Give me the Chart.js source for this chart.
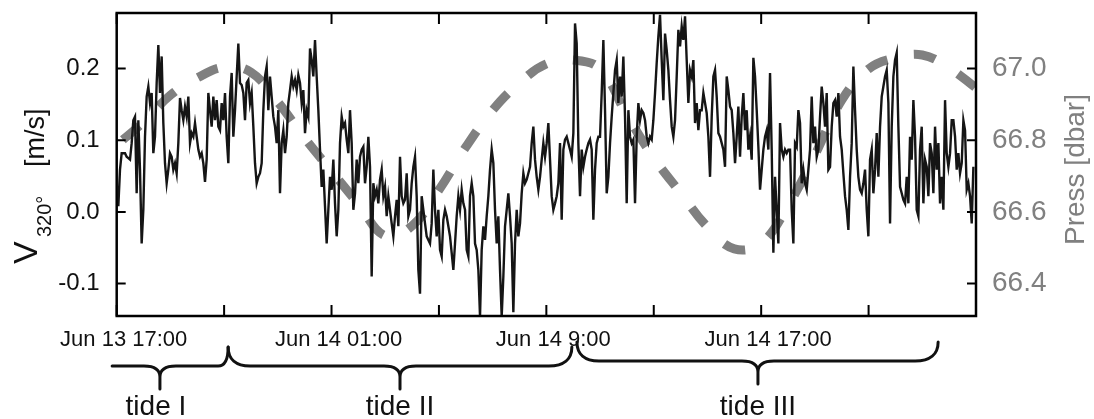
<!DOCTYPE html>
<html>
<head>
<meta charset="utf-8">
<script src="https://cdn.jsdelivr.net/npm/chart.js@4.4.1/dist/chart.umd.min.js"></script>
<style>
  html, body { margin: 0; padding: 0; background: #fff; }
  canvas { display: block; }
</style>
</head>
<body>
<canvas id="chart" width="1094" height="419"></canvas>
<script>
// Time axis: hours after Jun 13 17:00
const SAMPLE_START_H = 0.0607;   // first velocity sample (≈17:03:40)
const SAMPLE_STEP_H = 0.06207;   // velocity sampling interval (≈3 min 43 s)

// Along-channel velocity v320° [m/s]
const velocity = [
  0.008, 0.059, 0.082, 0.082, 0.082, 0.077, 0.075, 0.073, 0.096, 0.128,
  0.133, 0.026, 0.128, 0.059, -0.044, 0.003, 0.105, 0.161, 0.175, 0.152,
  0.166, 0.082, 0.105, 0.180, 0.233, 0.166, 0.217, 0.124, 0.068, 0.040,
  0.059, 0.082, 0.077, 0.059, 0.068, 0.054, 0.096, 0.159, 0.142, 0.128,
  0.147, 0.133, 0.161, 0.096, 0.110, 0.105, 0.124, 0.105, 0.087, 0.077,
  0.082, 0.068, 0.042, 0.073, 0.166, 0.142, 0.119, 0.161, 0.128, 0.156,
  0.119, 0.114, 0.152, 0.128, 0.166, 0.105, 0.068, 0.161, 0.194, 0.105,
  0.142, 0.189, 0.235, 0.180, 0.177, 0.166, 0.128, 0.180, 0.184, 0.152,
  0.166, 0.119, 0.068, 0.040, 0.049, 0.054, 0.068, 0.142, 0.189, 0.203,
  0.142, 0.189, 0.161, 0.133, 0.119, 0.096, 0.142, 0.026, 0.096, 0.114,
  0.082, 0.105, 0.152, 0.170, 0.189, 0.175, 0.184, 0.170, 0.191, 0.180,
  0.152, 0.170, 0.110, 0.142, 0.133, 0.228, 0.212, 0.189, 0.240, 0.189,
  0.142, 0.087, 0.035, 0.059, 0.008, -0.044, 0.003, 0.049, 0.031, 0.073,
  0.012, -0.034, 0.003, 0.096, 0.133, 0.119, 0.124, 0.101, 0.082,
  0.142, 0.096, 0.003, 0.026, 0.073, 0.040, 0.077, 0.087, 0.091, 0.040,
  0.063, 0.105, 0.063, -0.090, 0.040, 0.022, 0.031, 0.012, 0.045, 0.059,
  0.022, 0.035, -0.006, 0.022, 0.003, -0.016, -0.034, -0.006, 0.017, -0.020,
  0.077, 0.022, 0.012, 0.017, 0.054, -0.006, 0.003, 0.040, 0.063, 0.077,
  0.022, -0.081, -0.114, 0.022, 0.003, -0.016, -0.034, -0.039, -0.044, -0.016,
  0.059, 0.003, -0.034, 0.003, -0.053, -0.062, -0.011, 0.003, -0.006, -0.020,
  -0.034, -0.057, -0.081, -0.044, -0.006, 0.022, 0.003, 0.031, 0.012, 0.003,
  -0.053, -0.062, 0.022, 0.040, 0.022, -0.044, -0.053, -0.081, -0.146, -0.053,
  -0.020, -0.039, -0.006, 0.022, 0.059, 0.087, 0.068, 0.003, -0.044, -0.006,
  -0.081, -0.146, -0.090, -0.020, 0.003, 0.026, -0.006, -0.044, -0.140, -0.044,
  0.003, -0.034, -0.016, 0.026, 0.054, 0.040, 0.045, 0.054, 0.063, 0.096,
  0.119, 0.073, 0.049, 0.031, 0.049, 0.073, 0.096, 0.077, 0.096, 0.124,
  0.073, 0.022, 0.003, 0.012, 0.022, 0.040, 0.096, -0.011, 0.087, 0.101,
  0.105, 0.096, 0.087, 0.077, 0.110, 0.263, 0.235, 0.096, 0.022, 0.087,
  0.063, 0.077, 0.087, 0.096, 0.101, 0.087, -0.011, 0.059, 0.096, 0.105,
  0.105, 0.166, 0.240, 0.142, 0.026, 0.049, 0.096, 0.133, 0.166, 0.198,
  0.212, 0.152, 0.189, 0.161, 0.217, 0.133, 0.012, 0.142, 0.105, 0.096,
  0.101, 0.012, 0.105, 0.152, 0.128, 0.142, 0.138, 0.128, 0.105, 0.096,
  0.105, 0.101, 0.128, 0.166, 0.208, 0.245, 0.275, 0.212, 0.156, 0.249,
  0.226, 0.198, 0.156, 0.119, 0.105, 0.128, 0.189, 0.254, 0.231, 0.259,
  0.240, 0.273, 0.212, 0.152, 0.198, 0.189, 0.212, 0.124, 0.152, 0.114,
  0.142, 0.142, 0.166, 0.152, 0.138, 0.105, 0.049, 0.133, 0.189, 0.198,
  0.161, 0.110, 0.105, 0.096, 0.087, 0.063, 0.189, 0.170, 0.147, 0.142,
  0.110, 0.068, 0.105, 0.147, 0.077, 0.133, 0.166, 0.114, 0.142, 0.087,
  0.105, 0.073, 0.215, 0.189, 0.142, 0.091, 0.031, 0.059, 0.087, 0.105,
  0.114, 0.087, 0.194, 0.087, -0.057, 0.049, 0.003, -0.044, 0.124, 0.087,
  0.077, 0.087, 0.082, 0.087,
  0.087, 0.003, -0.044, 0.096, 0.091, 0.142, 0.124, 0.040, 0.059, 0.040,
  0.031, 0.059, 0.087, 0.161, 0.096, 0.119, 0.077, 0.087, 0.133, 0.175,
  0.152, 0.119, 0.166, 0.059, 0.063, 0.119, 0.152, 0.156, 0.133, 0.166,
  0.105, 0.087, 0.054, 0.022, 0.003, -0.025, 0.049, 0.096, 0.203, 0.142,
  0.087, 0.049, 0.031, 0.026, 0.040, 0.059, 0.003, -0.034, 0.073, 0.087,
  0.026, 0.059, 0.110, 0.049, 0.119, 0.161, 0.175, 0.189, 0.198, 0.152,
  -0.016, 0.119, 0.189, 0.212, 0.222, 0.119, 0.035, 0.026, 0.017, 0.012,
  0.049, 0.012, 0.105, 0.073, 0.156, 0.105, 0.003, -0.006, 0.087, 0.119,
  0.012, 0.073, 0.063, 0.022, 0.096, 0.082, 0.026, 0.119, 0.059, 0.096,
  0.012, 0.049, 0.003, 0.156, 0.082, 0.063, 0.082, 0.128, 0.128, 0.105,
  0.059, 0.082, 0.054, 0.068, 0.128, 0.114, 0.031, 0.040, 0.022, -0.016,
  0.063
];

// Bottom pressure [dbar], hourly
const pressHours = [0, 1, 2, 3, 4, 5, 6, 7, 8, 9, 10, 11, 12, 13, 14, 15, 16,
                    17, 18, 19, 20, 21, 22, 23, 24, 25, 26, 27, 28, 29, 30, 31, 32];
const pressure = [66.787, 66.851, 66.926, 66.974, 67.004, 66.990, 66.907, 66.806,
                  66.714, 66.622, 66.533, 66.561, 66.661, 66.781, 66.884, 66.960,
                  67.013, 67.024, 66.999, 66.870, 66.751, 66.653, 66.558, 66.497,
                  66.513, 66.617, 66.759, 66.912, 66.999, 67.030, 67.038, 67.002, 66.946];

// Axes
const xTickHours = [0, 8, 16, 24];
const xTickLabels = ['Jun 13 17:00', 'Jun 14 01:00', 'Jun 14 9:00', 'Jun 14 17:00'];
const velTicks = [-0.1, 0.0, 0.1, 0.2];
const pressTicks = [66.4, 66.6, 66.8, 67.0];

// Tidal cycles (hours after Jun 13 17:00)
const tideNames = ['tide I', 'tide II', 'tide III'];
const tideStart = [-0.17, 4.15, 17.14];
const tideEnd = [4.15, 16.95, 30.59];
const tideMid = [1.61, 10.55, 23.88];

const FONT = "'Liberation Sans', Arial, Helvetica, sans-serif";
const GRAY = '#808080';

const velPoints = velocity.map((v, i) => ({ x: SAMPLE_START_H + i * SAMPLE_STEP_H, y: v }));
const pressPoints = pressure.map((p, i) => ({ x: pressHours[i], y: p }));

function verticalText(ctx, text, x, y, size, color) {
  ctx.save();
  ctx.translate(x, y);
  ctx.rotate(-Math.PI / 2);
  ctx.font = size + 'px ' + FONT;
  ctx.fillStyle = color;
  ctx.textAlign = 'left';
  ctx.textBaseline = 'alphabetic';
  ctx.fillText(text, 0, 0);
  ctx.restore();
}

// Keep the plot box fixed: axes report no extra padding for their end labels
function noPad(s) {
  s.paddingTop = 0; s.paddingBottom = 0; s.paddingLeft = 0; s.paddingRight = 0;
}

// Box frame with inward tick marks
const framePlugin = {
  id: 'frame',
  afterDraw(chart) {
    const { ctx, chartArea: a, scales: { x, y, y2 } } = chart;
    ctx.save();
    ctx.strokeStyle = '#000';
    ctx.lineWidth = 2;
    ctx.beginPath();
    for (let h = 0; h <= 32; h += 4) {
      const px = x.getPixelForValue(h);
      ctx.moveTo(px, a.bottom); ctx.lineTo(px, a.bottom - 11);
      ctx.moveTo(px, a.top); ctx.lineTo(px, a.top + 11);
    }
    velTicks.forEach(v => {
      const py = y.getPixelForValue(v);
      ctx.moveTo(a.left, py); ctx.lineTo(a.left + 9, py);
    });
    pressTicks.forEach(p => {
      const py = y2.getPixelForValue(p);
      ctx.moveTo(a.right, py); ctx.lineTo(a.right - 9, py);
    });
    ctx.stroke();
    ctx.lineWidth = 2.5;
    ctx.strokeRect(a.left, a.top, a.right - a.left, a.bottom - a.top);
    ctx.restore();
  }
};

// Axis titles, tide braces and their labels
const labelsPlugin = {
  id: 'labels',
  afterDraw(chart) {
    const { ctx, scales: { x } } = chart;

    verticalText(ctx, 'V', 37, 264, 34, '#111');
    verticalText(ctx, '320°', 51, 237, 20, '#111');
    verticalText(ctx, '[m/s]', 44, 167, 27, '#111');
    verticalText(ctx, 'Press [dbar]', 1084, 245, 28, GRAY);

    const lineY = [366, 366, 361];
    ctx.save();
    ctx.strokeStyle = '#111';
    ctx.lineWidth = 3;
    ctx.lineJoin = 'round';
    ctx.lineCap = 'round';
    tideNames.forEach((name, i) => {
      const xl = x.getPixelForValue(tideStart[i]);
      const xr = x.getPixelForValue(tideEnd[i]);
      const xm = x.getPixelForValue(tideMid[i]);
      const y0 = lineY[i];
      const curl = 19;
      const wl = 22, wr = i === 0 ? 10 : 23;
      ctx.beginPath();
      if (i === 0) {
        ctx.moveTo(xl, y0);
      } else {
        ctx.moveTo(xl, y0 - curl);
        ctx.bezierCurveTo(xl, y0 - curl * 0.35, xl + wl * 0.35, y0, xl + wl, y0);
      }
      ctx.lineTo(xm - 16, y0);
      ctx.bezierCurveTo(xm - 6, y0, xm, y0 + 3, xm, y0 + 11);
      ctx.lineTo(xm, y0 + 23);
      ctx.moveTo(xm, y0 + 11);
      ctx.bezierCurveTo(xm, y0 + 3, xm + 6, y0, xm + 16, y0);
      ctx.lineTo(xr - wr, y0);
      ctx.bezierCurveTo(xr - wr * 0.35, y0, xr, y0 - curl * 0.35, xr, y0 - curl);
      ctx.stroke();

      ctx.font = '28px ' + FONT;
      ctx.fillStyle = '#111';
      ctx.textAlign = 'center';
      ctx.textBaseline = 'alphabetic';
      ctx.fillText(name, xm - (i === 0 ? 4 : 0), 415);
    });
    ctx.restore();
  }
};

new Chart(document.getElementById('chart'), {
  type: 'line',
  data: {
    datasets: [
      {
        label: 'v320',
        data: velPoints,
        yAxisID: 'y',
        borderColor: '#151515',
        borderWidth: 2.4,
        pointRadius: 0,
        tension: 0,
        order: 1
      },
      {
        label: 'Press',
        data: pressPoints,
        yAxisID: 'y2',
        borderColor: GRAY,
        borderWidth: 9,
        borderDash: [22, 27],
        borderDashOffset: 41,
        borderCapStyle: 'butt',
        pointRadius: 0,
        tension: 0.4,
        order: 2
      }
    ]
  },
  options: {
    responsive: false,
    animation: false,
    devicePixelRatio: 1,
    layout: { padding: { top: 13, left: 0, right: 0, bottom: 0 } },
    plugins: { legend: { display: false }, tooltip: { enabled: false } },
    scales: {
      x: {
        type: 'linear',
        min: 0,
        max: 32,
        afterBuildTicks: s => { s.ticks = xTickHours.map(v => ({ value: v })); },
        afterFit: s => { s.height = 103; noPad(s); },
        grid: { display: false, drawTicks: false },
        border: { display: false },
        ticks: {
          autoSkip: false,
          maxRotation: 0,
          padding: 11,
          labelOffset: 7,
          color: '#111',
          font: { family: FONT, size: 22 },
          callback: v => { const i = xTickHours.indexOf(v); return i >= 0 ? xTickLabels[i] : ''; }
        }
      },
      y: {
        position: 'left',
        min: -0.1452,
        max: 0.2776,
        afterBuildTicks: s => { s.ticks = velTicks.map(v => ({ value: v })); },
        afterFit: s => { s.width = 116.7; noPad(s); },
        grid: { display: false, drawTicks: false },
        border: { display: false },
        ticks: {
          padding: 17,
          color: '#111',
          font: { family: FONT, size: 24 },
          callback: v => v.toFixed(1)
        }
      },
      y2: {
        position: 'right',
        min: 66.3096,
        max: 67.1552,
        afterBuildTicks: s => { s.ticks = pressTicks.map(v => ({ value: v })); },
        afterFit: s => { s.width = 118; noPad(s); },
        grid: { display: false, drawTicks: false },
        border: { display: false },
        ticks: {
          padding: 16,
          color: GRAY,
          font: { family: FONT, size: 28 },
          callback: v => v.toFixed(1)
        }
      }
    }
  },
  plugins: [framePlugin, labelsPlugin]
});
</script>
</body>
</html>
